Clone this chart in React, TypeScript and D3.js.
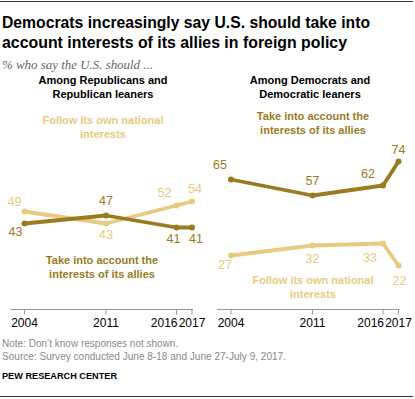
import React from 'react';
import * as d3 from 'd3';

const years = [2004, 2011, 2016, 2017];

// Among Republicans and Republican leaners
const repOwnInterests = [49, 43, 52, 54];
const repAllies = [43, 47, 41, 41];

// Among Democrats and Democratic leaners
const demAllies = [65, 57, 62, 74];
const demOwnInterests = [27, 32, 33, 22];

const tickLabels = ['2004', '2011', '2016', '2017'];

const DARK = '#9a7b22';
const LIGHT = '#e6cb80';
const FONT = '"Liberation Sans", Arial, sans-serif';

const width = 415;
const height = 399;

// shared vertical scale
const y = d3.scaleLinear().domain([0, 100]).range([309.5, 109.5]);

// uneven year spacing, as in the original
const xFor = (ox: number) =>
  d3.scaleLinear().domain(years).range([0, 81.5, 152, 167.5].map(f => ox + f));

type LabelOff = [number, number];

const Series = ({ x, values, color, offs }: { x: d3.ScaleLinear<number, number>; values: number[]; color: string; offs: LabelOff[] }) => {
  const line = d3.line<number>()
    .x((d, i) => x(years[i]))
    .y(d => y(d));
  return (
    <g>
      <path d={line(values) || ''} fill="none" stroke={color} strokeWidth={3.8} strokeLinejoin="round" strokeLinecap="round" />
      {values.map((v, i) => (
        <circle key={'c' + i} cx={x(years[i])} cy={y(v)} r={3} fill={color} />
      ))}
      {values.map((v, i) => (
        <text key={'t' + i} x={x(years[i]) + offs[i][0]} y={y(v) + offs[i][1]} textAnchor="middle"
          fontSize={12.5} fill={color} fontFamily={FONT}>{v}</text>
      ))}
    </g>
  );
};

const Axis = ({ x }: { x: d3.ScaleLinear<number, number> }) => {
  const y0 = y(0);
  return (
    <g>
      <line x1={x(2004) - 14} x2={x(2017) + 1} y1={y0} y2={y0} stroke="#999" strokeWidth={1} />
      {years.map(yr => (
        <line key={yr} x1={x(yr)} x2={x(yr)} y1={y0} y2={y0 + 5} stroke="#999" strokeWidth={1} />
      ))}
      {years.map((yr, i) => (
        <text key={'l' + yr} x={yr === 2016 ? x(yr) + 1 : x(yr)} y={327} fontSize={12}
          textAnchor={yr === 2016 ? 'end' : 'middle'} fill="#000" fontFamily={FONT}>{tickLabels[i]}</text>
      ))}
    </g>
  );
};

const SeriesLabel = ({ cx, y1, lines, color }: { cx: number; y1: number; lines: string[]; color: string }) => (
  <text textAnchor="middle" fontSize={11} fontWeight="bold" fill={color} fontFamily={FONT}>
    {lines.map((l, i) => (
      <tspan key={i} x={cx} y={y1 + i * 13.5}>{l}</tspan>
    ))}
  </text>
);

export default function App() {
  const xL = xFor(24.5);
  const xR = xFor(231);

  return (
    <svg width={width} height={height} style={{ position: 'absolute', left: 0, top: 0, background: '#fff' }}>
      <line x1={0} x2={413} y1={1.5} y2={1.5} stroke="#333" strokeWidth={1} />

      <text x={2} y={27.5} fontSize={16.5} fontWeight="bold" fontFamily={FONT} fill="#000"
        textLength={368} lengthAdjust="spacingAndGlyphs">Democrats increasingly say U.S. should take into</text>
      <text x={2} y={47.5} fontSize={16.5} fontWeight="bold" fontFamily={FONT} fill="#000"
        textLength={345} lengthAdjust="spacingAndGlyphs">account interests of its allies in foreign policy</text>
      <text x={2} y={69} fontSize={12.5} fontStyle="italic" fontFamily='"Liberation Serif", serif' fill="#666"
        textLength={151} lengthAdjust="spacingAndGlyphs">% who say the U.S. should ...</text>

      <SeriesLabel cx={103} y1={84} lines={['Among Republicans and', 'Republican leaners']} color="#000" />
      <SeriesLabel cx={310} y1={84} lines={['Among Democrats and', 'Democratic leaners']} color="#000" />

      {/* left panel */}
      <SeriesLabel cx={103} y1={124} lines={['Follow its own national', 'interests']} color={LIGHT} />
      <SeriesLabel cx={102} y1={264} lines={['Take into account the', 'interests of its allies']} color={DARK} />
      <Series x={xL} values={repOwnInterests} color={LIGHT}
        offs={[[-10, -6], [0, 15.7], [-12, -8.3], [3, -8.3]]} />
      <Series x={xL} values={repAllies} color={DARK}
        offs={[[-9, 12.7], [0, -10.3], [-3, 15.7], [4, 15.7]]} />
      <Axis x={xL} />

      {/* right panel */}
      <SeriesLabel cx={313} y1={120} lines={['Take into account the', 'interests of its allies']} color={DARK} />
      <SeriesLabel cx={313} y1={284} lines={['Follow its own national', 'interests']} color={LIGHT} />
      <Series x={xR} values={demAllies} color={DARK}
        offs={[[-11, -10.3], [0, -10.3], [-15, -7.3], [0, -7.3]]} />
      <Series x={xR} values={demOwnInterests} color={LIGHT}
        offs={[[-6, 13.7], [0, 17.7], [-13, 18.7], [1, 19.7]]} />
      <Axis x={xR} />

      <text x={2} y={347} fontSize={10} fill="#8a8a8a" fontFamily={FONT}>Note: Don’t know responses not shown.</text>
      <text x={2} y={360} fontSize={10} fill="#8a8a8a" fontFamily={FONT}
        textLength={284} lengthAdjust="spacingAndGlyphs">Source: Survey conducted June 8-18 and June 27-July 9, 2017.</text>
      <text x={2} y={379} fontSize={9.5} fontWeight="bold" fill="#000" fontFamily={FONT}
        textLength={115} lengthAdjust="spacingAndGlyphs">PEW RESEARCH CENTER</text>
      <line x1={0} x2={413} y1={396.5} y2={396.5} stroke="#333" strokeWidth={1} />
    </svg>
  );
}
